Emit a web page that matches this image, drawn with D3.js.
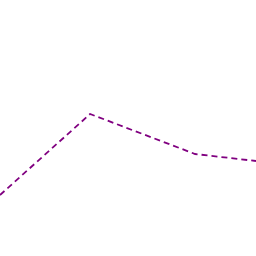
<!DOCTYPE html>
<html><head><meta charset="utf-8">
<script src="https://cdn.jsdelivr.net/npm/d3@7"></script>
<style>html,body{margin:0;padding:0;background:#fff;}svg{display:block;}</style>
</head><body>
<script>
const xValues = [0, 0.352, 0.762, 1.0];
const yValues = [61, 142, 102, 95];

const W = 256, H = 256;
const svg = d3.select("body").append("svg").attr("width", W).attr("height", H);
const x = d3.scaleLinear().domain([0, 1]).range([0, 256]);
const y = d3.scaleLinear().domain([0, 256]).range([256, 0]);
const data = xValues.map((v, i) => [v, yValues[i]]);
svg.append("path")
  .datum(data)
  .attr("fill", "none")
  .attr("stroke", "#800080")
  .attr("stroke-width", 1.8)
  .attr("stroke-dasharray", "6,4")
  .attr("d", d3.line().x(d => x(d[0])).y(d => y(d[1])));
</script>
</body></html>
